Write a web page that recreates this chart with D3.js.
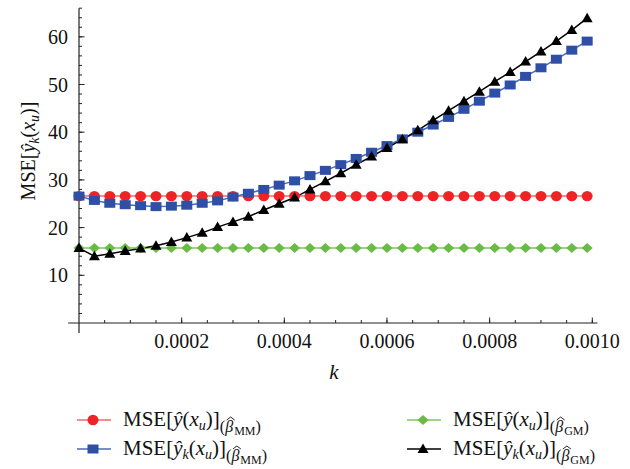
<!DOCTYPE html>
<html>
<head>
<meta charset="utf-8">
<script src="https://cdn.jsdelivr.net/npm/d3@7"></script>
<style>
body { margin: 0; background: #fff; }
svg text { font-family: "Liberation Serif", "DejaVu Serif", serif; fill: #111; }
</style>
</head>
<body>
<svg id="chart" width="630" height="469"></svg>
<script>
// k values (x), one marker per point
var kValues = [0, 0.00003, 0.00006, 0.00009, 0.00012, 0.00015, 0.00018, 0.00021, 0.00024, 0.00027,
  0.0003, 0.00033, 0.00036, 0.00039, 0.00042, 0.00045, 0.00048, 0.00051, 0.00054, 0.00057,
  0.0006, 0.00063, 0.00066, 0.00069, 0.00072, 0.00075, 0.00078, 0.00081, 0.00084, 0.00087,
  0.0009, 0.00093, 0.00096, 0.00099];

var mseMM = [26.6, 26.6, 26.6, 26.6, 26.6, 26.6, 26.6, 26.6, 26.6, 26.6,
  26.6, 26.6, 26.6, 26.6, 26.6, 26.6, 26.6, 26.6, 26.6, 26.6,
  26.6, 26.6, 26.6, 26.6, 26.6, 26.6, 26.6, 26.6, 26.6, 26.6,
  26.6, 26.6, 26.6, 26.6];
var mseKMM = [26.6, 25.7, 25.1, 24.8, 24.6, 24.4, 24.5, 24.7, 25.1, 25.6,
  26.4, 27.2, 28.0, 28.9, 29.8, 30.9, 32.0, 33.2, 34.5, 35.8,
  37.2, 38.6, 40.0, 41.5, 43.1, 44.8, 46.5, 48.2, 49.9, 51.7,
  53.5, 55.3, 57.2, 59.1];
var mseGM = [15.7, 15.7, 15.7, 15.7, 15.7, 15.7, 15.7, 15.7, 15.7, 15.7,
  15.7, 15.7, 15.7, 15.7, 15.7, 15.7, 15.7, 15.7, 15.7, 15.7,
  15.7, 15.7, 15.7, 15.7, 15.7, 15.7, 15.7, 15.7, 15.7, 15.7,
  15.7, 15.7, 15.7, 15.7];
var mseKGM = [15.7, 14.0, 14.5, 15.1, 15.6, 16.2, 17.0, 17.9, 18.9, 20.1,
  21.2, 22.3, 23.7, 25.0, 26.3, 28.0, 29.7, 31.4, 33.2, 34.9,
  36.7, 38.5, 40.4, 42.5, 44.5, 46.5, 48.5, 50.6, 52.6, 54.8,
  56.9, 59.1, 61.4, 63.9];

var xTicks = [0.0002, 0.0004, 0.0006, 0.0008, 0.0010];
var xTickLabels = ["0.0002", "0.0004", "0.0006", "0.0008", "0.0010"];
var yTicks = [10, 20, 30, 40, 50, 60];

var svg = d3.select("#chart");

var x = d3.scaleLinear().domain([0, 0.001]).range([79, 592.3]);
var y = d3.scaleLinear().domain([0, 60]).range([323, 36.8]);

// axes lines
svg.append("line")
    .attr("x1", x(-0.000021)).attr("x2", x(0.00101))
    .attr("y1", y(0)).attr("y2", y(0))
    .attr("stroke", "#222").attr("stroke-width", 1.2);
svg.append("line")
    .attr("x1", x(0)).attr("x2", x(0))
    .attr("y1", y(-2.1)).attr("y2", y(66))
    .attr("stroke", "#222").attr("stroke-width", 1.2);

// x axis ticks
var xg = svg.append("g").attr("transform", "translate(0," + y(0) + ")");
xg.selectAll(".minor").data(d3.range(1, 21).map(function(i) { return i * 0.00005; }))
  .enter().append("line")
    .attr("x1", function(d) { return x(d); }).attr("x2", function(d) { return x(d); })
    .attr("y1", 0).attr("y2", -3)
    .attr("stroke", "#222");
xg.selectAll(".major").data(xTicks)
  .enter().append("line")
    .attr("x1", function(d) { return x(d); }).attr("x2", function(d) { return x(d); })
    .attr("y1", 0).attr("y2", -5.5)
    .attr("stroke", "#222");
xg.selectAll(".lab").data(xTicks)
  .enter().append("text")
    .attr("x", function(d) { return x(d); })
    .attr("y", 25)
    .attr("text-anchor", "middle")
    .style("font-size", "20px")
    .text(function(d, i) { return xTickLabels[i]; });

// y axis ticks
var yg = svg.append("g").attr("transform", "translate(" + x(0) + ",0)");
yg.selectAll(".minor").data(d3.range(1, 34).map(function(i) { return i * 2; }))
  .enter().append("line")
    .attr("y1", function(d) { return y(d); }).attr("y2", function(d) { return y(d); })
    .attr("x1", 0).attr("x2", 3)
    .attr("stroke", "#222");
yg.selectAll(".major").data(yTicks)
  .enter().append("line")
    .attr("y1", function(d) { return y(d); }).attr("y2", function(d) { return y(d); })
    .attr("x1", 0).attr("x2", 5.5)
    .attr("stroke", "#222");
yg.selectAll(".lab").data(yTicks)
  .enter().append("text")
    .attr("x", -11)
    .attr("y", function(d) { return y(d); })
    .attr("dy", "0.35em")
    .attr("text-anchor", "end")
    .style("font-size", "20px")
    .text(function(d) { return d; });

// axis titles
svg.append("text")
    .attr("x", 334).attr("y", 379)
    .attr("text-anchor", "middle")
    .style("font-size", "21px").style("font-style", "italic")
    .text("k");

var yl = svg.append("text")
    .attr("transform", "translate(35,151) rotate(-90)")
    .attr("text-anchor", "middle")
    .style("font-size", "20px");
yl.append("tspan").text("MSE[");
yl.append("tspan").style("font-style", "italic").text("\u0177");
yl.append("tspan").style("font-style", "italic").style("font-size", "14px").attr("dy", 4).text("k");
yl.append("tspan").attr("dy", -4).text("(");
yl.append("tspan").style("font-style", "italic").text("x");
yl.append("tspan").style("font-style", "italic").style("font-size", "14px").attr("dy", 4).text("u");
yl.append("tspan").attr("dy", -4).text(")]");

// series
var series = [
  {name: "mm", values: mseMM, line: "#f06a6a", fill: "#ee2326", shape: "circle"},
  {name: "gm", values: mseGM, line: "#7fc65a", fill: "#68bb45", shape: "diamond"},
  {name: "kgm", values: mseKGM, line: "#000", fill: "#000", shape: "triangle"},
  {name: "kmm", values: mseKMM, line: "#4a68bd", fill: "#2f4fa6", shape: "square"}
];

function markerPath(shape) {
  if (shape === "square") return "M-5.5,-4.5H5.5V4.5H-5.5Z";
  if (shape === "diamond") return "M0,-5L5.5,0L0,5L-5.5,0Z";
  if (shape === "triangle") return "M0,-5.5L5.5,4L-5.5,4Z";
  return null;
}

var line = d3.line()
    .x(function(d, i) { return x(kValues[i]); })
    .y(function(d) { return y(d); });

var drawOrder = [series[0], series[1], series[3], series[2]];
drawOrder.forEach(function(s) {
  svg.append("path")
      .datum(s.values)
      .attr("d", line)
      .attr("fill", "none")
      .attr("stroke", s.line)
      .attr("stroke-width", 1.5);
});
drawOrder.forEach(function(s) {
  var g = svg.append("g");
  if (s.shape === "circle") {
    g.selectAll("ellipse").data(s.values).enter().append("ellipse")
        .attr("cx", function(d, i) { return x(kValues[i]); })
        .attr("cy", function(d) { return y(d); })
        .attr("rx", 5.5).attr("ry", 5.2)
        .attr("fill", s.fill);
  } else {
    g.selectAll("path").data(s.values).enter().append("path")
        .attr("transform", function(d, i) { return "translate(" + x(kValues[i]) + "," + y(d) + ")"; })
        .attr("d", markerPath(s.shape))
        .attr("fill", s.fill);
  }
});

// legend
var legendItems = [
  {s: series[0], x: 77, y: 420, hatSub: false, est: "MM"},
  {s: series[3], x: 77, y: 449, hatSub: true, est: "MM"},
  {s: series[1], x: 407, y: 420, hatSub: false, est: "GM"},
  {s: series[2], x: 407, y: 449, hatSub: true, est: "GM"}
];
legendItems.forEach(function(it) {
  var g = svg.append("g").attr("transform", "translate(" + it.x + "," + it.y + ")");
  g.append("line").attr("x1", 0).attr("x2", 34).attr("y1", 0).attr("y2", 0)
      .attr("stroke", it.s.line).attr("stroke-width", 1.5);
  if (it.s.shape === "circle") {
    g.append("ellipse").attr("cx", 16).attr("cy", 0).attr("rx", 5.5).attr("ry", 5.2).attr("fill", it.s.fill);
  } else {
    g.append("path").attr("transform", "translate(16,0)").attr("d", markerPath(it.s.shape)).attr("fill", it.s.fill);
  }
  var t = g.append("text").attr("x", 46).attr("y", 6).style("font-size", "21px");
  t.append("tspan").text("MSE[");
  t.append("tspan").style("font-style", "italic").text("\u0177");
  if (it.hatSub) {
    t.append("tspan").style("font-style", "italic").style("font-size", "14px").attr("dy", 4).text("k");
    t.append("tspan").attr("dy", -4).text("(");
  } else {
    t.append("tspan").text("(");
  }
  t.append("tspan").style("font-style", "italic").text("x");
  t.append("tspan").style("font-style", "italic").style("font-size", "14px").attr("dy", 4).text("u");
  t.append("tspan").attr("dy", -4).text(")]");
  t.append("tspan").style("font-size", "16px").attr("dy", 6).text("(");
  var beta = t.append("tspan").style("font-size", "16px").style("font-style", "italic").text("\u03B2");
  t.append("tspan").style("font-size", "12px").attr("dx", 1).attr("dy", 3).text(it.est);
  t.append("tspan").style("font-size", "16px").attr("dy", -3).text(")");
  // hat over beta drawn as a small path
  var n = beta.node();
  var p0 = n.getStartPositionOfChar(0), p1 = n.getEndPositionOfChar(0);
  var cx = (p0.x + p1.x) / 2 + 1.5, top = p0.y - 15;
  g.append("path")
      .attr("d", "M" + (cx - 4) + "," + (top + 3) + "L" + cx + "," + top + "L" + (cx + 4) + "," + (top + 3))
      .attr("fill", "none").attr("stroke", "#111").attr("stroke-width", 0.9);
});
</script>
</body>
</html>
